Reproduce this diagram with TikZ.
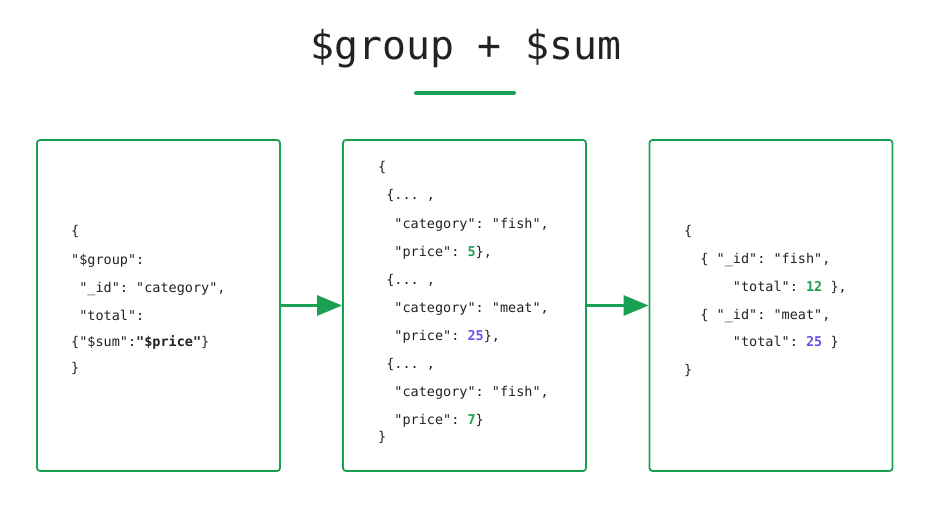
\documentclass[tikz,border=0pt]{standalone}
\usepackage{fontspec}
\setmonofont{DejaVu Sans Mono}
\usetikzlibrary{arrows.meta}
\definecolor{grn}{RGB}{26,160,82}
\definecolor{prp}{RGB}{100,88,232}
\definecolor{ink}{RGB}{34,34,34}
\tikzset{
  box/.style={draw=grn, line width=1.8pt, rounded corners=3pt, minimum width=243pt, minimum height=331pt, inner sep=0pt},
  code/.style={anchor=base west, inner sep=0pt, font=\ttfamily\fontsize{13.5}{15}\selectfont, text=ink},
  flow/.style={draw=grn, line width=3pt, -{Triangle[length=25pt,width=20pt]}},
}
\newcommand{\gn}[1]{\textcolor{grn}{\bfseries #1}}
\newcommand{\pp}[1]{\textcolor{prp}{\bfseries #1}}
\begin{document}
\begin{tikzpicture}[x=1pt,y=-1pt]
\useasboundingbox (0,0) rectangle (927,508);
\node[anchor=center, inner sep=0pt, font=\ttfamily\fontsize{39.8}{42}\selectfont, text=ink] (title) at (466,49) {\$group + \$sum};
\coordinate (ul1) at (416,93);
\coordinate (ul2) at (514,93);
\draw[grn, line width=4pt, line cap=round] (ul1) -- (ul2);

\node[box] (b1) at (158.5,305.5) {};
\node[box] (b2) at (464.5,305.5) {};
\node[box] (b3) at (771,305.5) {};

\draw[flow] (b1.east) -- (b2.west);
\draw[flow] (b2.east) -- (b3.west);

% box 1
\node[code] (l1a) at (71,236) {\{};
\node[code] (l1b) at (71,264) {"\$group":};
\node[code] (l1c) at (71,292) {\ "\_id": "category",};
\node[code] (l1d) at (71,320) {\ "total":};
\node[code] (l1e) at (71,346) {\{"\$sum":\textbf{"\$price"}\}};
\node[code] (l1f) at (71,372) {\}};

% box 2
\node[code] (l2a) at (378,172) {\{};
\node[code] (l2b) at (378,200) {\ \{... ,};
\node[code] (l2c) at (378,228) {\ \ "category": "fish",};
\node[code] (l2d) at (378,256) {\ \ "price": \gn{5}\},};
\node[code] (l2e) at (378,284) {\ \{... ,};
\node[code] (l2f) at (378,312) {\ \ "category": "meat",};
\node[code] (l2g) at (378,340) {\ \ "price": \pp{25}\},};
\node[code] (l2h) at (378,368) {\ \{... ,};
\node[code] (l2i) at (378,396) {\ \ "category": "fish",};
\node[code] (l2j) at (378,424) {\ \ "price": \gn{7}\}};
\node[code] (l2k) at (378,441) {\}};

% box 3
\node[code] (l3a) at (684,235) {\{};
\node[code] (l3b) at (684,263) {\ \ \{ "\_id": "fish",};
\node[code] (l3c) at (684,291) {\ \ \ \ \ \ "total": \gn{12} \},};
\node[code] (l3d) at (684,319) {\ \ \{ "\_id": "meat",};
\node[code] (l3e) at (684,346) {\ \ \ \ \ \ "total": \pp{25} \}};
\node[code] (l3f) at (684,374) {\}};
\end{tikzpicture}
\end{document}
